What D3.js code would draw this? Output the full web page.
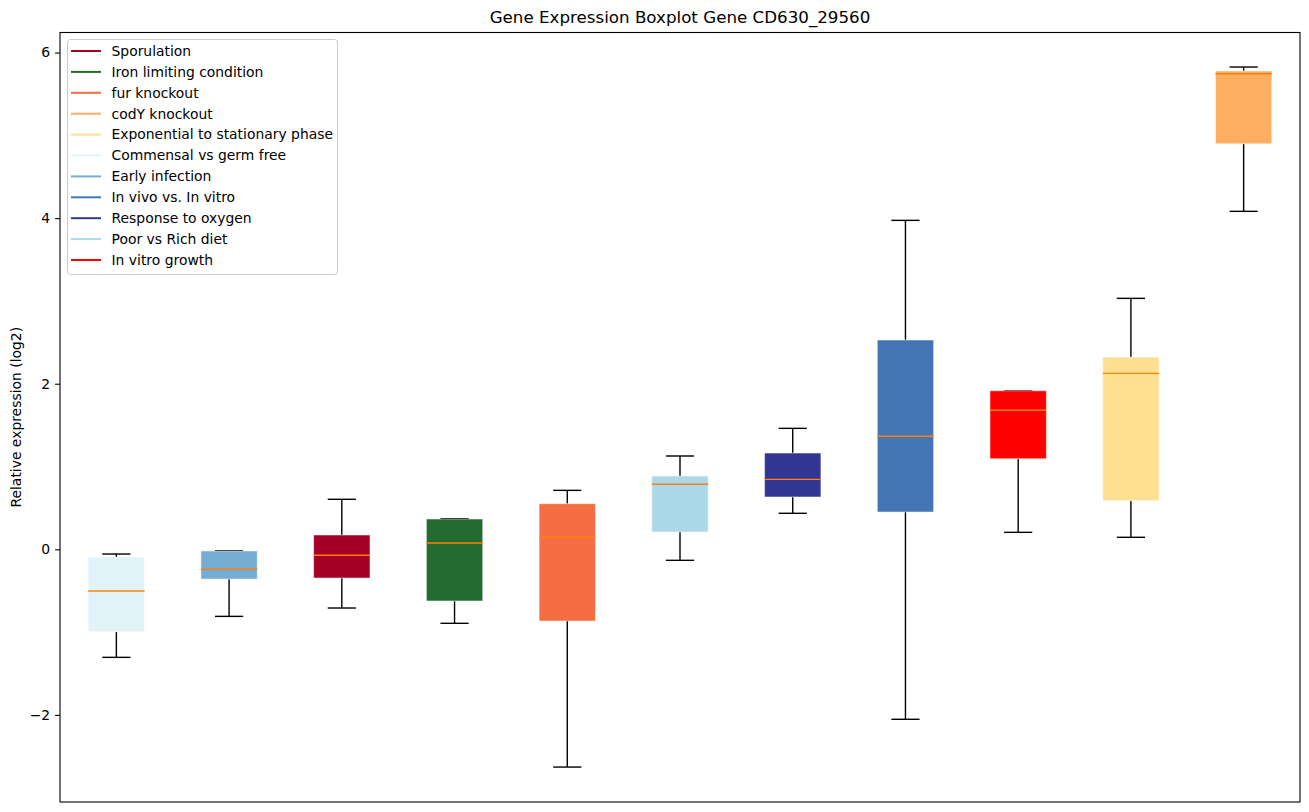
<!DOCTYPE html>
<html>
<head>
<meta charset="utf-8">
<script src="https://cdn.jsdelivr.net/npm/d3@7"></script>
<style>
    body { margin: 0; background: #fff; }
    text { font-family: "DejaVu Sans", sans-serif; }
</style>
</head>
<body>
<div id="chart"></div>
<script>
// boxes, left to right (sorted by median)
const boxNames = ["Commensal vs germ free", "Early infection", "Sporulation", "Iron limiting condition",
    "fur knockout", "Poor vs Rich diet", "Response to oxygen", "In vivo vs. In vitro",
    "In vitro growth", "Exponential to stationary phase", "codY knockout"];
const whiskerLow = [-1.305, -0.81, -0.709, -0.894, -2.63, -0.133, 0.435, -2.053, 0.205, 0.145, 4.082];
const q1 = [-0.995, -0.36, -0.347, -0.624, -0.866, 0.209, 0.632, 0.45, 1.094, 0.587, 4.898];
const medians = [-0.504, -0.24, -0.072, 0.076, 0.145, 0.785, 0.845, 1.365, 1.679, 2.125, 5.744];
const q3 = [-0.093, -0.02, 0.173, 0.366, 0.551, 0.885, 1.163, 2.528, 1.915, 2.322, 5.777];
const whiskerHigh = [-0.057, -0.017, 0.604, 0.37, 0.712, 1.127, 1.461, 3.973, 1.915, 3.031, 5.825];

// legend order and colours
const legendNames = ["Sporulation", "Iron limiting condition", "fur knockout", "codY knockout",
    "Exponential to stationary phase", "Commensal vs germ free", "Early infection",
    "In vivo vs. In vitro", "Response to oxygen", "Poor vs Rich diet", "In vitro growth"];
const legendColors = ["#a50026", "#236b2e", "#f46d43", "#fdae61", "#fee090", "#e0f3f8",
    "#74add1", "#4575b4", "#313695", "#abd9e9", "#ff0000"];

const yTicks = [-2, 0, 2, 4, 6];

const colorOf = d3.scaleOrdinal().domain(legendNames).range(legendColors);

const W = 1309, H = 812;
const margin = { top: 32.5, right: 9, bottom: 10, left: 60 };

const svg = d3.select("#chart").append("svg")
    .attr("width", W)
    .attr("height", H);

const x = d3.scaleLinear().domain([0.5, boxNames.length + 0.5]).range([margin.left, W - margin.right]);
const y = d3.scaleLinear().domain([-3.052, 6.242]).range([H - margin.bottom, margin.top]);

const boxes = boxNames.map((name, i) => ({
    name: name, pos: i + 1,
    lo: whiskerLow[i], q1: q1[i], med: medians[i], q3: q3[i], hi: whiskerHigh[i]
}));

const boxW = x(1.25) - x(1);
const capW = x(1.125) - x(1);

const g = svg.append("g");

// whiskers
g.selectAll("line.wlo").data(boxes).enter().append("line")
    .attr("x1", d => x(d.pos)).attr("x2", d => x(d.pos))
    .attr("y1", d => y(d.q1)).attr("y2", d => y(d.lo))
    .attr("stroke", "black").attr("stroke-width", 1.4);
g.selectAll("line.whi").data(boxes).enter().append("line")
    .attr("x1", d => x(d.pos)).attr("x2", d => x(d.pos))
    .attr("y1", d => y(d.q3)).attr("y2", d => y(d.hi))
    .attr("stroke", "black").attr("stroke-width", 1.4);

// caps
["lo", "hi"].forEach(k => {
    g.selectAll("line.cap" + k).data(boxes).enter().append("line")
        .attr("x1", d => x(d.pos) - capW).attr("x2", d => x(d.pos) + capW)
        .attr("y1", d => y(d[k])).attr("y2", d => y(d[k]))
        .attr("stroke", "black").attr("stroke-width", 1.4);
});

// boxes
g.selectAll("rect").data(boxes).enter().append("rect")
    .attr("x", d => x(d.pos) - boxW)
    .attr("width", boxW * 2)
    .attr("y", d => y(d.q3))
    .attr("height", d => y(d.q1) - y(d.q3))
    .attr("fill", d => colorOf(d.name))
    .attr("stroke", "white")
    .attr("stroke-opacity", 0.5)
    .attr("stroke-width", 1);

// medians
g.selectAll("line.med").data(boxes).enter().append("line")
    .attr("x1", d => x(d.pos) - boxW).attr("x2", d => x(d.pos) + boxW)
    .attr("y1", d => y(d.med)).attr("y2", d => y(d.med))
    .attr("stroke", "#ff7f0e").attr("stroke-width", 1.4);

// axes frame
svg.append("rect")
    .attr("x", margin.left).attr("y", margin.top)
    .attr("width", W - margin.right - margin.left)
    .attr("height", H - margin.bottom - margin.top)
    .attr("fill", "none").attr("stroke", "black").attr("stroke-width", 1.1);

const yAxis = svg.append("g")
    .attr("transform", `translate(${margin.left},0)`)
    .call(d3.axisLeft(y).tickValues(yTicks).tickSize(4.9).tickPadding(4.9)
        .tickFormat(d => d < 0 ? "\u2212" + Math.abs(d) : d));
yAxis.select(".domain").remove();
yAxis.selectAll("text").attr("font-size", 13.9).attr("fill", "black")
    .attr("font-family", "DejaVu Sans, sans-serif");
yAxis.selectAll("line").attr("stroke", "black").attr("stroke-width", 1.1);

// title and label
svg.append("text")
    .attr("x", (margin.left + W - margin.right) / 2)
    .attr("y", 23)
    .attr("text-anchor", "middle")
    .attr("font-size", 16.7)
    .text("Gene Expression Boxplot Gene CD630_29560");

svg.append("text")
    .attr("transform", `translate(21,${(margin.top + H - margin.bottom) / 2}) rotate(-90)`)
    .attr("text-anchor", "middle")
    .attr("font-size", 13.9)
    .text("Relative expression (log2)");

// legend
const legend = svg.append("g").attr("transform", "translate(67.5,39.5)");
legend.append("rect")
    .attr("width", 270).attr("height", 235)
    .attr("rx", 3)
    .attr("fill", "white").attr("fill-opacity", 0.8)
    .attr("stroke", "#cccccc").attr("stroke-width", 1);

const item = legend.selectAll("g.item").data(legendNames).enter().append("g")
    .attr("transform", (d, i) => `translate(0,${11.5 + i * 20.9})`);
item.append("line")
    .attr("x1", 3.5).attr("x2", 33.5)
    .attr("stroke", d => colorOf(d)).attr("stroke-width", 2);
item.append("text")
    .attr("x", 44)
    .attr("dy", "0.35em")
    .attr("font-size", 13.9)
    .text(d => d);
</script>
</body>
</html>
